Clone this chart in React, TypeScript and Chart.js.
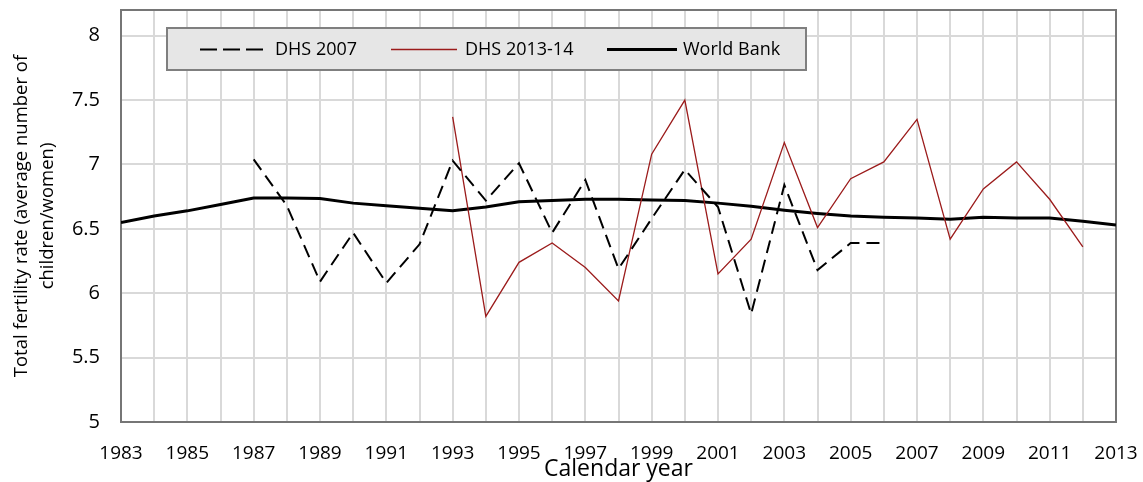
import React, { useEffect, useRef } from "react";
import { Chart, registerables } from "chart.js";

Chart.register(...registerables);

const dhs2007Years = [1987, 1988, 1989, 1990, 1991, 1992, 1993, 1994, 1995, 1996, 1997, 1998, 1999, 2000, 2001, 2002, 2003, 2004, 2005, 2006];
const dhs2007Values = [7.04, 6.68, 6.09, 6.47, 6.08, 6.38, 7.03, 6.72, 7.01, 6.47, 6.88, 6.19, 6.58, 6.96, 6.67, 5.84, 6.84, 6.18, 6.39, 6.39];

const dhs2013Years = [1993, 1994, 1995, 1996, 1997, 1998, 1999, 2000, 2001, 2002, 2003, 2004, 2005, 2006, 2007, 2008, 2009, 2010, 2011, 2012];
const dhs2013Values = [7.37, 5.82, 6.24, 6.39, 6.2, 5.94, 7.08, 7.5, 6.15, 6.42, 7.17, 6.51, 6.89, 7.02, 7.35, 6.42, 6.81, 7.02, 6.73, 6.36];

const worldBankYears = [1983, 1984, 1985, 1986, 1987, 1988, 1989, 1990, 1991, 1992, 1993, 1994, 1995, 1996, 1997, 1998, 1999, 2000, 2001, 2002, 2003, 2004, 2005, 2006, 2007, 2008, 2009, 2010, 2011, 2012, 2013];
const worldBankValues = [6.55, 6.6, 6.64, 6.69, 6.74, 6.74, 6.735, 6.7, 6.68, 6.66, 6.64, 6.67, 6.71, 6.72, 6.73, 6.73, 6.725, 6.72, 6.7, 6.675, 6.645, 6.62, 6.6, 6.59, 6.585, 6.575, 6.59, 6.585, 6.585, 6.56, 6.53];

const xGridYears = [1983, 1984, 1985, 1986, 1987, 1988, 1989, 1990, 1991, 1992, 1993, 1994, 1995, 1996, 1997, 1998, 1999, 2000, 2001, 2002, 2003, 2004, 2005, 2006, 2007, 2008, 2009, 2010, 2011, 2012, 2013];
const xLabelYears = [1983, 1985, 1987, 1989, 1991, 1993, 1995, 1997, 1999, 2001, 2003, 2005, 2007, 2009, 2011, 2013];
const yTicks = [5, 5.5, 6, 6.5, 7, 7.5, 8];

const seriesNames = ["DHS 2007", "DHS 2013-14", "World Bank"];
const xTitle = "Calendar year";
const yTitleLines = ["Total fertility rate (average number of", "children/women)"];

const FONT = "'Open Sans', 'Noto Sans', sans-serif";
const RED = "#9b1b1b";

const toPoints = (xs: number[], ys: number[]) => xs.map((x, i) => ({ x, y: ys[i] }));

const decorPlugin = {
  id: "decor",
  beforeDatasetsDraw(chart: any) {
    const { ctx, chartArea } = chart;
    ctx.save();
    ctx.strokeStyle = "#767676";
    ctx.lineWidth = 2;
    ctx.strokeRect(chartArea.left, chartArea.top, chartArea.right - chartArea.left, chartArea.bottom - chartArea.top);
    ctx.restore();
  },
  afterDraw(chart: any) {
    const { ctx, chartArea } = chart;
    ctx.save();
    ctx.fillStyle = "#000";
    ctx.textAlign = "center";
    ctx.textBaseline = "middle";
    ctx.font = `23px ${FONT}`;
    ctx.fillText(xTitle, (chartArea.left + chartArea.right) / 2, 469);
    ctx.font = `18.5px ${FONT}`;
    const cy = (chartArea.top + chartArea.bottom) / 2;
    const lineX = [22, 48];
    yTitleLines.forEach((line, i) => {
      ctx.save();
      ctx.translate(lineX[i], cy);
      ctx.rotate(-Math.PI / 2);
      ctx.fillText(line, 0, 0);
      ctx.restore();
    });
    // legend box
    ctx.fillStyle = "#e6e6e6";
    ctx.fillRect(167, 28, 639, 42);
    ctx.strokeStyle = "#7f7f7f";
    ctx.lineWidth = 2;
    ctx.strokeRect(167, 28, 639, 42);
    const ly = 49.5;
    ctx.lineCap = "butt";
    ctx.strokeStyle = "#000";
    ctx.lineWidth = 2;
    ctx.setLineDash([17, 6]);
    ctx.beginPath();
    ctx.moveTo(200, ly);
    ctx.lineTo(267, ly);
    ctx.stroke();
    ctx.setLineDash([]);
    ctx.strokeStyle = RED;
    ctx.lineWidth = 1.3;
    ctx.beginPath();
    ctx.moveTo(391, ly);
    ctx.lineTo(457, ly);
    ctx.stroke();
    ctx.strokeStyle = "#000";
    ctx.lineWidth = 3;
    ctx.beginPath();
    ctx.moveTo(607, ly);
    ctx.lineTo(677, ly);
    ctx.stroke();
    ctx.fillStyle = "#000";
    ctx.textAlign = "left";
    ctx.font = `18px ${FONT}`;
    ctx.fillText(seriesNames[0], 275, ly);
    ctx.fillText(seriesNames[1], 465, ly);
    ctx.fillText(seriesNames[2], 683, ly);
    ctx.restore();
  },
};

export default function App() {
  const canvasRef = useRef<HTMLCanvasElement | null>(null);

  useEffect(() => {
    document.body.style.margin = "0";
    const canvas = canvasRef.current;
    if (!canvas) return;
    const chart = new Chart(canvas, {
      type: "line",
      data: {
        datasets: [
          {
            label: seriesNames[0],
            data: toPoints(dhs2007Years, dhs2007Values),
            borderColor: "#000",
            borderWidth: 2,
            borderDash: [13, 7],
            borderCapStyle: "butt",
            pointRadius: 0,
            tension: 0,
            fill: false,
          },
          {
            label: seriesNames[1],
            data: toPoints(dhs2013Years, dhs2013Values),
            borderColor: RED,
            borderWidth: 1.3,
            pointRadius: 0,
            tension: 0,
            fill: false,
          },
          {
            label: seriesNames[2],
            data: toPoints(worldBankYears, worldBankValues),
            borderColor: "#000",
            borderWidth: 3,
            pointRadius: 0,
            tension: 0,
            fill: false,
          },
        ],
      },
      options: {
        responsive: false,
        animation: false,
        events: [],
        layout: { padding: { left: 0, right: 27, top: 10, bottom: 0 } },
        plugins: { legend: { display: false }, tooltip: { enabled: false }, title: { display: false } },
        scales: {
          x: {
            type: "linear",
            min: 1983,
            max: 2013,
            afterBuildTicks: (scale: any) => {
              scale.ticks = xGridYears.map((v) => ({ value: v }));
            },
            afterFit: (scale: any) => {
              scale.height = 60;
              scale.paddingLeft = 0;
              scale.paddingRight = 0;
            },
            grid: { color: "#d9d9d9", lineWidth: 2, drawTicks: false },
            border: { display: false },
            ticks: {
              autoSkip: false,
              maxRotation: 0,
              padding: 20,
              color: "#000",
              font: { family: FONT, size: 19 },
              callback: (v: any) => (xLabelYears.includes(Number(v)) ? String(v) : ""),
            },
          },
          y: {
            type: "linear",
            min: 5,
            max: 8.2,
            afterBuildTicks: (scale: any) => {
              scale.ticks = yTicks.map((v) => ({ value: v }));
            },
            afterFit: (scale: any) => {
              scale.width = 121;
              scale.paddingTop = 0;
              scale.paddingBottom = 0;
            },
            grid: { color: "#d9d9d9", lineWidth: 2, drawTicks: false },
            border: { display: false },
            ticks: {
              padding: 21,
              color: "#000",
              font: { family: FONT, size: 20 },
              callback: (v: any) => String(v),
            },
          },
        },
      },
      plugins: [decorPlugin],
    });
    return () => chart.destroy();
  }, []);

  return (
    <div style={{ width: 1143, height: 482 }}>
      <canvas ref={canvasRef} width={1143} height={482} style={{ display: "block" }} />
    </div>
  );
}
